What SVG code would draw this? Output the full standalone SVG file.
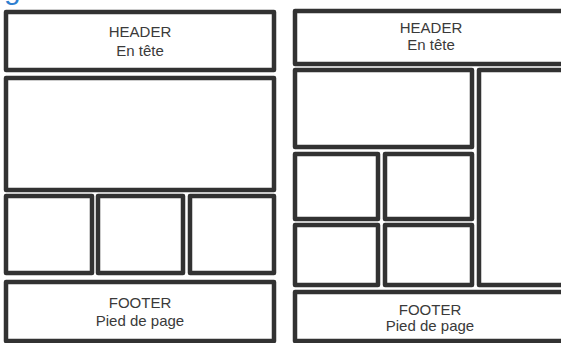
<svg xmlns="http://www.w3.org/2000/svg" width="561" height="343" viewBox="0 0 561 343">
<style>
.box{fill:#fff;stroke:#323232;stroke-width:4.5;stroke-linejoin:round}
.t{font-family:"Liberation Sans",Arial,sans-serif;font-size:15px;fill:#3a3a3a;text-anchor:middle}
</style>
<rect x="0" y="0" width="561" height="343" fill="#fff"/>
<text x="4" y="-1" style="font-family:'Liberation Sans',Arial,sans-serif;font-size:30px;fill:#2f80d0">g</text>
<g id="left-layout">
<g id="l-header"><rect class="box" x="6" y="12" width="268" height="58"/><text class="t" x="140" y="37">HEADER</text><text class="t" x="140" y="56">En tête</text></g>
<g id="l-main"><rect class="box" x="6" y="78" width="268" height="112"/></g>
<g id="l-col1"><rect class="box" x="6" y="196" width="86" height="77"/></g>
<g id="l-col2"><rect class="box" x="98" y="196" width="85" height="77"/></g>
<g id="l-col3"><rect class="box" x="190" y="196" width="84" height="77"/></g>
<g id="l-footer"><rect class="box" x="6" y="282" width="268" height="59"/><text class="t" x="140" y="308">FOOTER</text><text class="t" x="140" y="326">Pied de page</text></g>
</g>
<g id="right-layout">
<g id="r-header"><rect class="box" x="295" y="11" width="275" height="53"/><text class="t" x="431" y="33">HEADER</text><text class="t" x="431" y="50">En tête</text></g>
<g id="r-main"><rect class="box" x="295" y="70" width="177" height="77"/></g>
<g id="r-side"><rect class="box" x="479" y="70" width="91" height="215"/></g>
<g id="r-cell1"><rect class="box" x="295" y="154" width="83" height="65"/></g>
<g id="r-cell2"><rect class="box" x="385" y="154" width="87" height="65"/></g>
<g id="r-cell3"><rect class="box" x="295" y="225" width="83" height="60"/></g>
<g id="r-cell4"><rect class="box" x="385" y="225" width="87" height="60"/></g>
<g id="r-footer"><rect class="box" x="295" y="292" width="275" height="49"/><text class="t" x="430" y="315">FOOTER</text><text class="t" x="430" y="331">Pied de page</text></g>
</g>
<g id="connectors"/>
</svg>
